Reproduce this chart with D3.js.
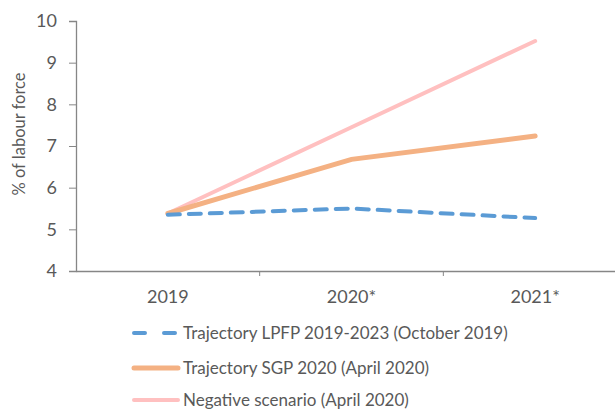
<!DOCTYPE html>
<html><head><meta charset="utf-8">
<script src="https://cdn.jsdelivr.net/npm/d3@7"></script>
<style>body{margin:0;background:#fff}svg{display:block}text{font-family:Lato,"Open Sans",sans-serif}</style>
</head><body>
<script>
const categories = ["2019","2020*","2021*"];
const lpfp = [5.35, 5.50, 5.27];
const sgp = [5.38, 6.68, 7.24];
const negative = [5.38, 7.45, 9.52];
const yTicks = [4,5,6,7,8,9,10];
const seriesNames = ["Trajectory LPFP 2019-2023 (October 2019)","Trajectory SGP 2020 (April 2020)","Negative scenario (April 2020)"];

const W=615,H=411;
const svg=d3.select("body").append("svg").attr("width",W).attr("height",H);
const x=d3.scaleBand().domain(categories).range([76,627]);
const y=d3.scaleLinear().domain([4,10]).range([271,21]);
const grey="#595959", axisC="#868686";

// y axis
const ya=svg.append("g").attr("transform","translate(76,0)").call(d3.axisLeft(y).tickValues(yTicks).tickFormat(d3.format("d")).tickSize(7).tickPadding(12));
ya.select(".domain").attr("stroke",axisC).attr("stroke-width",1.3);
ya.selectAll(".tick line").attr("stroke",axisC);
ya.selectAll("text").attr("fill",grey).attr("font-size",18);
// x axis
const xa=svg.append("g").attr("transform","translate(0,271)").call(d3.axisBottom(x).tickSize(0).tickPadding(19));
xa.select(".domain").attr("stroke",axisC).attr("stroke-width",1.3);
xa.selectAll("text").attr("fill",grey).attr("font-size",18);
categories.slice(1).forEach(c=>{
  svg.append("line").attr("x1",x(c)).attr("x2",x(c)).attr("y1",271).attr("y2",276).attr("stroke",axisC);
});
svg.append("text").attr("transform","translate(19,134) rotate(-90)").attr("text-anchor","middle").attr("dy","0.35em").attr("fill",grey).attr("font-size",16.5).text("% of labour force");

const cx=c=>x(c)+x.bandwidth()/2;
const line=d3.line().x((d,i)=>cx(categories[i])).y(d=>y(d));
const styles=[
 {data:lpfp,color:"#5B9BD5",w:4,dash:"12,9"},
 {data:sgp,color:"#F4B183",w:5,dash:null},
 {data:negative,color:"#FFC0C0",w:4,dash:null}
];
[2,1,0].forEach(i=>{
  const s=styles[i];
  svg.append("path").attr("d",line(s.data)).attr("fill","none").attr("stroke",s.color).attr("stroke-width",s.w).attr("stroke-linecap","round").attr("stroke-dasharray",s.dash);
});
// legend
const ly=[333,368,400];
styles.forEach((s,i)=>{
  svg.append("line").attr("x1",134).attr("x2",178).attr("y1",ly[i]).attr("y2",ly[i]).attr("stroke",s.color).attr("stroke-width",s.w).attr("stroke-linecap","round").attr("stroke-dasharray",s.dash?"11,19":null);
  svg.append("text").attr("x",183).attr("y",ly[i]).attr("dy","0.35em").attr("fill",grey).attr("font-size",17).text(seriesNames[i]);
});
</script>
</body></html>
